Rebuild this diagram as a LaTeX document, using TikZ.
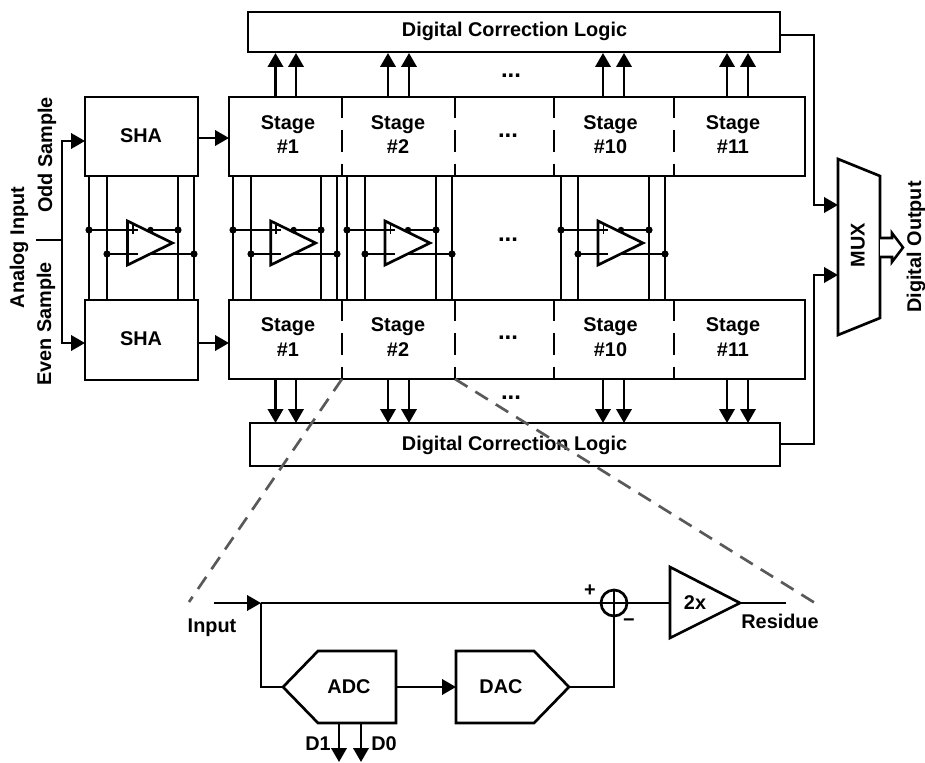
\documentclass[tikz,border=0pt]{standalone}
\usepackage{fontspec}
\setmainfont{Liberation Sans}
\usetikzlibrary{arrows.meta}
\tikzset{
  px/.style={x=0.75pt,y=-0.75pt},
  wire/.style={line width=2pt,draw=black,line cap=butt},
  thin wire/.style={line width=1.7pt,draw=black},
  arr/.style={wire,-{Triangle[length=10.5pt,width=11.5pt]}},
  box/.style={wire,fill=white,line join=miter},
  lbl/.style={font=\bfseries\fontsize{14.9}{14.9}\selectfont,inner sep=0pt,text=black},
  dotslbl/.style={font=\bfseries\fontsize{18}{18}\selectfont,inner sep=0pt,text=black},
  divider/.style={line width=2pt,dash pattern=on 16pt off 9pt},
  zoomline/.style={line width=2pt,draw=black!65,dash pattern=on 11pt off 7pt},
  dot/.style={circle,fill=black,inner sep=0pt,minimum size=5.4pt},
}
\begin{document}
\begin{tikzpicture}[px]
\useasboundingbox (0,0) rectangle (925,763);
\fill[white] (0,0) rectangle (925,763);

% main boxes
\draw[box] (248,12) rectangle (780,52);
\node[lbl] (dcltop) at (514.5,31) {Digital Correction Logic};
\draw[box] (250,423) rectangle (780,466);
\node[lbl] (dclbot) at (514.5,445) {Digital Correction Logic};

\draw[box] (85,97) rectangle (198,176);
\node[lbl] (shatop) at (141,136) {SHA};
\draw[box] (85,300) rectangle (198,380);
\node[lbl] (shabot) at (141,339) {SHA};

\draw[box] (229,97) rectangle (805,176);
\draw[box] (229,300) rectangle (805,379);
\foreach \x in {342,455,554,674}{
  \draw[divider] (\x,97) -- (\x,176);
  \draw[divider] (\x,300) -- (\x,379);
}
\foreach \x/\t/\n in {288/1/a,398/2/b,610.5/10/c,733/11/d}{
  \node[lbl] (st\n) at (\x,125) {Stage};
  \node[lbl] (nt\n) at (\x,147) {\#\t};
  \node[lbl] (sb\n) at (\x,327) {Stage};
  \node[lbl] (nb\n) at (\x,350) {\#\t};
}
\foreach \x/\y [count=\i] in {511/76,508/136,508/240,508/338,511/398}{
  \node[dotslbl] (dots\i) at (\x,\y) {...};
}

% bus + amplifiers
\foreach \a/\b/\c/\d/\t in {89/107/178/194/127.5,233/251/321/337/270.7,347/365/436/452/385,561/578/649/665/598}{
  \foreach \x in {\a,\b,\c,\d} \draw[thin wire] (\x,176) -- (\x,300);
  \draw[thin wire] (\a,230) -- (\c,230);
  \draw[thin wire] (\b,254) -- (\d,254);
  \draw[box] (\t,221) -- (\t,265) -- ({\t+45},243) -- cycle;
  \draw[thin wire] (\b,254) -- ({\t+10},254);
  \draw[line width=1.4pt] ({\t+1},230) -- ({\t+10},230) ({\t+5.5},225.5) -- ({\t+5.5},234.5);
  \node[dot,minimum size=4.8pt] at ({\t+23},230) {};
  \foreach \p/\q in {\a/230,\c/230,\b/254,\d/254} \node[dot] at (\p,\q) {};
}

% arrows stage -> correction
\foreach \x in {275.5,296,388,409,603,624,727,748}{
  \draw[arr] (\x,97) -- (\x,53);
  \draw[arr] (\x,379) -- (\x,423);
}

% input
\coordinate (inl) at (36,240);
\draw[wire] (inl) -- (62,240);
\draw[arr] (62,240) |- (85,141);
\draw[arr] (62,240) |- (85,343);
\draw[arr] (198,138) -- (229,138);
\draw[arr] (198,343) -- (229,343);

% text on the left
\node[lbl,rotate=90] (ai) at (19,247.5) {Analog Input};
\node[lbl,rotate=90] (odd) at (47,155) {Odd Sample};
\node[lbl,rotate=90] (even) at (46,324) {Even Sample};

% MUX
\draw[box] (838,159) -- (880,176) -- (880,318) -- (838,335) -- cycle;
\node[lbl,rotate=90] (mux) at (858,245) {MUX};
\draw[arr] (780,35) -- (814,35) -- (814,205) -- (838,205);
\draw[arr] (780,444) -- (814,444) -- (814,275) -- (838,275);
\draw[line width=1.9pt,fill=white,line join=miter] (880,238) -- (892,238) -- (892,233) -- (903,247.5) -- (892,262) -- (892,257) -- (880,257);
\node[lbl,rotate=90] (dout) at (916,247) {Digital Output};

% zoom lines
\coordinate (zl) at (189,602);
\coordinate (zr) at (815,603);
\draw[zoomline] (342,379) -- (zl);
\draw[zoomline] (455,379) -- (zr);

% lower detail
\node[circle,draw=black,line width=2pt,minimum size=19.5pt,inner sep=0pt] (sum) at (614,603) {};
\draw[wire] (sum.north) -- (sum.south) (sum.west) -- (sum.east);
\coordinate (in) at (214,603);
\coordinate (br) at (261,603);
\draw[arr] (in) -- (br);
\draw[wire] (br) -- (sum.west);
\draw[wire] (br) -- (261,687) -- (283,687);
\draw[box] (283,687) -- (318,651) -- (396,651) -- (396,723) -- (318,723) -- cycle;
\node[lbl] (adc) at (349,687) {ADC};
\draw[box] (456,651) -- (534,651) -- (569,687) -- (534,723) -- (456,723) -- cycle;
\node[lbl] (dac) at (501,687) {DAC};
\draw[arr] (396,687) -- (456,687);
\draw[wire] (569,687) -- (614,687) -- (sum.south);
\draw[wire] (sum.east) -- (670,603);
\draw[box] (670,567) -- (740,603) -- (670,638) -- cycle;
\node[lbl] (twox) at (695,603) {2x};
\draw[wire] (740,603) -- (786,603);
\node[lbl] (input) at (212,628) {Input};
\node[lbl] (res) at (780,621) {Residue};
\node[lbl] (pl) at (590,591) {+};
\node[lbl] (mi) at (629,623) {−};
\draw[arr] (339,723) -- (339,762);
\draw[arr] (361,723) -- (361,762);
\node[lbl] (d1) at (318,744) {D1};
\node[lbl] (d0) at (384,744) {D0};
\end{tikzpicture}
\end{document}
